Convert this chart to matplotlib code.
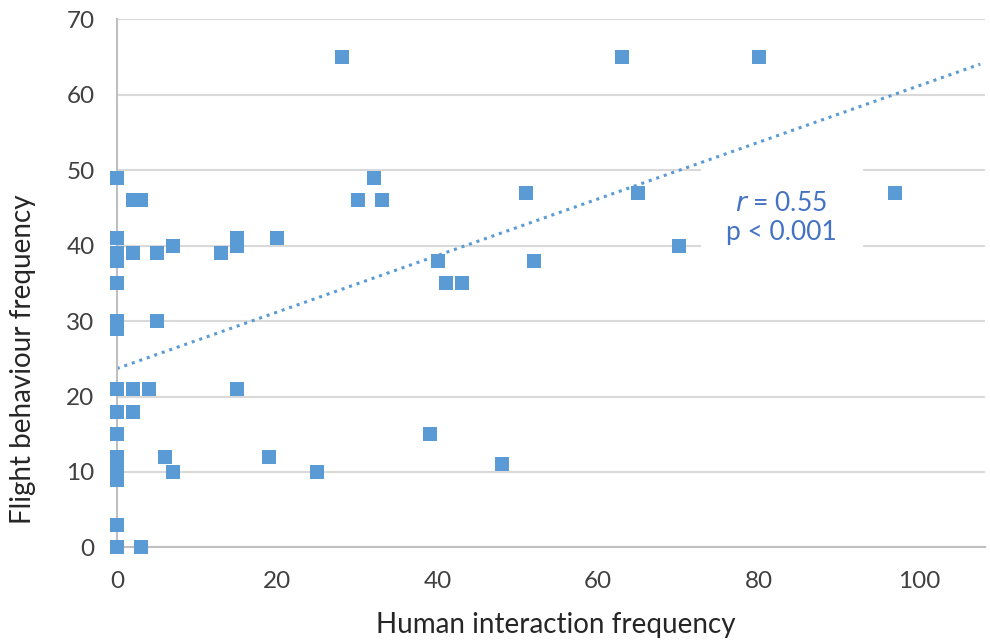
import numpy as np
import matplotlib.pyplot as plt
from matplotlib.patches import Rectangle

plt.rcParams['font.family'] = ['Lato', 'DejaVu Sans']

# human interaction frequency (x) and flight behaviour frequency (y)
human = [0, 0, 0, 0, 0, 0, 0, 0, 0, 0, 0, 0, 0, 0, 0, 0,
         2, 3, 2, 2, 2, 3, 4, 5, 5, 6, 7, 7, 13, 15, 15, 15,
         19, 20, 25, 28, 30, 32, 33, 39, 40, 41, 43, 48, 51, 52,
         63, 65, 70, 80, 97]
flight = [49, 41, 39, 38, 35, 30, 29, 21, 18, 15, 12, 11, 10, 9, 3, 0,
          46, 46, 39, 21, 18, 0, 21, 39, 30, 12, 10, 40, 39, 41, 40, 21,
          12, 41, 10, 65, 46, 49, 46, 15, 38, 35, 35, 11, 47, 38,
          65, 47, 40, 65, 47]

# linear trend line as drawn in the original
trend_intercept = 23.7
trend_slope = 0.375
trend_range = [0, 107.6]

x_ticks = [0, 20, 40, 60, 80, 100]
y_ticks = [0, 10, 20, 30, 40, 50, 60, 70]

blue = '#5B9BD5'

fig = plt.figure(figsize=(9.9, 6.41), dpi=100)
ax = fig.add_axes([0.118, 0.146, 0.877, 0.824])

xs = np.array(trend_range)
ax.plot(xs, trend_intercept + trend_slope*xs, linestyle=(0, (1, 1.6)), color=blue,
        linewidth=2.2, zorder=2)

ax.scatter(human, flight, marker='s', s=100, color=blue, linewidths=0,
           zorder=3, clip_on=False)

ax.set_xlim(0, 108.2)
ax.set_ylim(0, 70)
ax.set_xticks(x_ticks)
ax.set_yticks(y_ticks)
ax.tick_params(length=0, labelsize=17.5, colors='#404040')
ax.tick_params(axis='x', pad=17)
ax.tick_params(axis='y', pad=16)
ax.grid(axis='y', color='#D9D9D9', linewidth=1.5)
ax.set_axisbelow(True)
for s in ['top', 'right']:
    ax.spines[s].set_visible(False)
for s in ['left', 'bottom']:
    ax.spines[s].set_color('#BFBFBF')
    ax.spines[s].set_linewidth(1.5)

ax.set_xlabel('Human interaction frequency', fontsize=20, color='#262626')
ax.set_ylabel('Flight behaviour frequency', fontsize=20, color='#262626')
ax.xaxis.set_label_coords(0.506, -0.122)
ax.yaxis.set_label_coords(-0.108, 0.357)
ax.yaxis.label.set_va('center')
ax.xaxis.label.set_va('top')

# white label box over the gridlines
ax.add_patch(Rectangle((72.8, 39.4), 20.2, 11.0, facecolor='white',
                       edgecolor='none', zorder=1))
ax.text(82.8, 43.7, '$r$ = 0.55\np < 0.001', fontsize=19, color='#4472C4',
        ha='center', va='center', linespacing=1.2, zorder=4)

fig.savefig('out.png', dpi=100)
